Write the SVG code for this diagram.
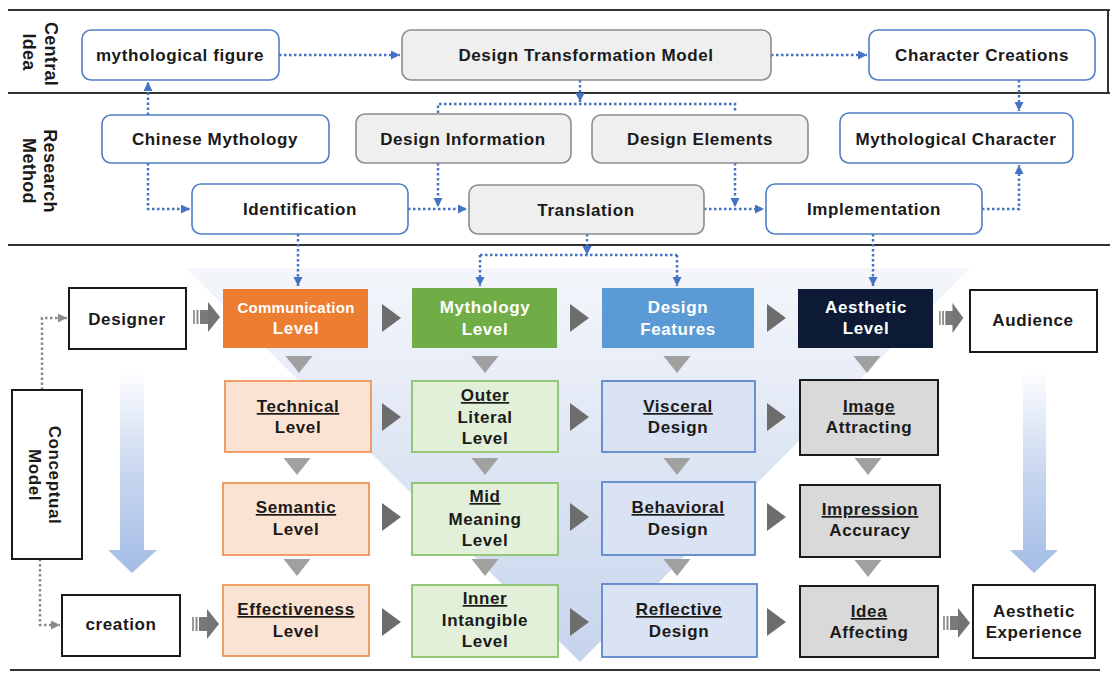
<svg xmlns="http://www.w3.org/2000/svg" width="1110" height="673" viewBox="0 0 1110 673">
<defs>
<style>
.t{font-family:"Liberation Sans",Arial,Helvetica,sans-serif;font-weight:bold;font-size:17px;letter-spacing:0.6px;fill:#1a1a1a;text-anchor:middle}
.sm{font-size:15px;letter-spacing:0.3px}
.lab{font-size:18px;letter-spacing:0.3px}
.w{fill:#ffffff}
.u{text-decoration:underline}
.rb{fill:#ffffff;stroke:#4f7fc6;stroke-width:1.6}
.gb{fill:#efefef;stroke:#8c8c8c;stroke-width:1.6}
.bb{fill:#ffffff;stroke:#1a1a1a;stroke-width:2}
.ob{fill:#fbe3d3;stroke:#f0955a;stroke-width:1.8}
.lg{fill:#e2f0d9;stroke:#8cc26c;stroke-width:1.8}
.lb{fill:#dae3f3;stroke:#5b87c9;stroke-width:1.8}
.gy{fill:#d9d9d9;stroke:#1a1a1a;stroke-width:2}
.dot{fill:none;stroke:#4472c4;stroke-width:2.5;stroke-dasharray:2.5 2.5}
.gdot{fill:none;stroke:#8a8a8a;stroke-width:2.5;stroke-dasharray:2.5 2.5}
.rt{fill:#6d6d6d}
.dt{fill:#a0a0a0}
.sep{stroke:#333333;stroke-width:2}
</style>
<marker id="ab" markerUnits="userSpaceOnUse" markerWidth="10" markerHeight="10" refX="9" refY="4.5" orient="auto">
<path d="M0,0 L9,4.5 L0,9 z" fill="#4472c4"/>
</marker>
<marker id="ag" markerUnits="userSpaceOnUse" markerWidth="10" markerHeight="10" refX="9" refY="4.5" orient="auto">
<path d="M0,0 L9,4.5 L0,9 z" fill="#8a8a8a"/>
</marker>
<linearGradient id="vg" x1="0" y1="0" x2="0" y2="1">
<stop offset="0" stop-color="#f4f6fb"/>
<stop offset="1" stop-color="#c6d4ec"/>
</linearGradient>
<linearGradient id="bg" x1="0" y1="0" x2="0" y2="1">
<stop offset="0" stop-color="#ffffff"/>
<stop offset="0.5" stop-color="#c9d7ef"/>
<stop offset="1" stop-color="#a4bde6"/>
</linearGradient>
<g id="blk">
<rect x="0" y="-7" width="2" height="14" fill="#9a9a9a"/>
<rect x="3.5" y="-7" width="2" height="14" fill="#8a8a8a"/>
<rect x="7" y="-7" width="9" height="14" fill="#7a7a7a"/>
<polygon points="15,-15 27,0 15,15" fill="#747474"/>
</g>
<polygon id="rtri" points="0,-14 19,0 0,14"/>
<polygon id="dtri" points="-13.5,0 13.5,0 0,17"/>
</defs>

<!-- section separators -->
<g id="frame">
<line class="sep" x1="8" y1="10" x2="1110" y2="10"/>
<line class="sep" x1="8" y1="93" x2="1110" y2="93"/>
<line class="sep" x1="8" y1="245" x2="1110" y2="245"/>
<line class="sep" x1="1108" y1="10" x2="1108" y2="93"/>
<line class="sep" x1="10" y1="670" x2="1100" y2="670"/>
<text class="t lab" transform="translate(45,54) rotate(90)">Central</text>
<text class="t lab" transform="translate(23,52) rotate(90)">Idea</text>
<text class="t lab" transform="translate(44,171) rotate(90)">Research</text>
<text class="t lab" transform="translate(23,171) rotate(90)">Method</text>
</g>

<!-- background V -->
<polygon id="vshape" points="186,268 970,268 580,662" fill="url(#vg)"/>

<!-- big blue arrows -->
<g id="bigarrows">
<polygon points="120,368 144,368 144,550 157,550 132,573 108,550 120,550" fill="url(#bg)"/>
<polygon points="1023,368 1046,368 1046,550 1058,550 1034,573 1010,550 1023,550" fill="url(#bg)"/>
</g>

<!-- connectors -->
<g id="connectors">
<path class="dot" d="M279,55 H400" marker-end="url(#ab)"/>
<path class="dot" d="M771,55 H867" marker-end="url(#ab)"/>
<path class="dot" d="M148,115 V82" marker-end="url(#ab)"/>
<path class="dot" d="M148,163 V209 H190" marker-end="url(#ab)"/>
<path class="dot" d="M580,80 V102" marker-end="url(#ab)"/>
<path class="dot" d="M438,113 V104 H735 V113"/>
<path class="dot" d="M408,209 H467" marker-end="url(#ab)"/>
<path class="dot" d="M438,163 V207" marker-end="url(#ab)"/>
<path class="dot" d="M704,209 H764" marker-end="url(#ab)"/>
<path class="dot" d="M735,163 V207" marker-end="url(#ab)"/>
<path class="dot" d="M1019,80 V111" marker-end="url(#ab)"/>
<path class="dot" d="M982,209 H1019 V165" marker-end="url(#ab)"/>
<path class="dot" d="M298,234 V286" marker-end="url(#ab)"/>
<path class="dot" d="M587,234 V255" marker-end="url(#ab)"/>
<path class="dot" d="M480,255 H677"/>
<path class="dot" d="M480,255 V286" marker-end="url(#ab)"/>
<path class="dot" d="M677,255 V286" marker-end="url(#ab)"/>
<path class="dot" d="M873,234 V286" marker-end="url(#ab)"/>
<path class="gdot" d="M42,390 V318 H67" marker-end="url(#ag)"/>
<path class="gdot" d="M40,559 V625 H60" marker-end="url(#ag)"/>
<!-- block arrows -->
<use href="#blk" transform="translate(193,317)"/>
<use href="#blk" transform="translate(939,318) scale(0.9,1)"/>
<use href="#blk" transform="translate(192,624)"/>
<use href="#blk" transform="translate(943,623)"/>
<!-- right triangles -->
<use href="#rtri" class="rt" x="382" y="318"/>
<use href="#rtri" class="rt" x="570" y="318"/>
<use href="#rtri" class="rt" x="767" y="318"/>
<use href="#rtri" class="rt" x="382" y="417"/>
<use href="#rtri" class="rt" x="570" y="417"/>
<use href="#rtri" class="rt" x="767" y="417"/>
<use href="#rtri" class="rt" x="382" y="517"/>
<use href="#rtri" class="rt" x="570" y="517"/>
<use href="#rtri" class="rt" x="767" y="517"/>
<use href="#rtri" class="rt" x="382" y="622"/>
<use href="#rtri" class="rt" x="570" y="622"/>
<use href="#rtri" class="rt" x="767" y="622"/>
<!-- down triangles -->
<use href="#dtri" class="dt" x="299" y="356"/>
<use href="#dtri" class="dt" x="485" y="356"/>
<use href="#dtri" class="dt" x="677" y="356"/>
<use href="#dtri" class="dt" x="867" y="356"/>
<use href="#dtri" class="dt" x="297" y="458"/>
<use href="#dtri" class="dt" x="485" y="458"/>
<use href="#dtri" class="dt" x="677" y="458"/>
<use href="#dtri" class="dt" x="868" y="458"/>
<use href="#dtri" class="dt" x="297" y="559"/>
<use href="#dtri" class="dt" x="485" y="559"/>
<use href="#dtri" class="dt" x="677" y="559"/>
<use href="#dtri" class="dt" x="868" y="560"/>
</g>

<!-- central idea row -->
<g id="n-myth-figure"><rect class="rb" x="82" y="30" width="197" height="50" rx="9"/><text class="t" x="180" y="61">mythological figure</text></g>
<g id="n-dtm"><rect class="gb" x="402" y="30" width="369" height="50" rx="9"/><text class="t" x="586" y="61">Design Transformation Model</text></g>
<g id="n-char-creations"><rect class="rb" x="869" y="30" width="226" height="50" rx="9"/><text class="t" x="982" y="61">Character Creations</text></g>

<!-- research method -->
<g id="n-chinese-myth"><rect class="rb" x="102" y="115" width="227" height="48" rx="9"/><text class="t" x="215" y="145">Chinese Mythology</text></g>
<g id="n-design-info"><rect class="gb" x="356" y="114" width="215" height="49" rx="9"/><text class="t" x="463" y="145">Design Information</text></g>
<g id="n-design-elem"><rect class="gb" x="592" y="115" width="216" height="48" rx="9"/><text class="t" x="700" y="145">Design Elements</text></g>
<g id="n-myth-char"><rect class="rb" x="840" y="113" width="233" height="50" rx="9"/><text class="t" x="956" y="145">Mythological Character</text></g>
<g id="n-identification"><rect class="rb" x="192" y="184" width="216" height="50" rx="9"/><text class="t" x="300" y="215">Identification</text></g>
<g id="n-translation"><rect class="gb" x="469" y="185" width="235" height="49" rx="9"/><text class="t" x="586" y="216">Translation</text></g>
<g id="n-implementation"><rect class="rb" x="766" y="184" width="216" height="50" rx="9"/><text class="t" x="874" y="215">Implementation</text></g>

<!-- conceptual model -->
<g id="n-conceptual"><rect class="bb" x="12" y="390" width="70" height="169"/>
<text class="t" transform="translate(49,475) rotate(90)">Conceptual</text>
<text class="t" transform="translate(29,475) rotate(90)">Model</text></g>
<g id="n-designer"><rect class="bb" x="69" y="288" width="117" height="61"/><text class="t" x="127" y="325">Designer</text></g>
<g id="n-creation"><rect class="bb" x="62" y="595" width="118" height="61"/><text class="t" x="121" y="630">creation</text></g>
<g id="n-audience"><rect class="bb" x="970" y="290" width="127" height="62"/><text class="t" x="1033" y="326">Audience</text></g>
<g id="n-aes-exp"><rect class="bb" x="973" y="585" width="122" height="73"/><text class="t" x="1034" y="617">Aesthetic</text><text class="t" x="1034" y="638">Experience</text></g>

<!-- header row -->
<g id="n-comm"><rect x="223" y="289" width="145" height="59" fill="#ed7d31"/><text class="t sm w" x="296" y="313">Communication</text><text class="t w" x="296" y="334">Level</text></g>
<g id="n-mythlevel"><rect x="412" y="288" width="145" height="60" fill="#70ad47"/><text class="t w" x="485" y="313">Mythology</text><text class="t w" x="485" y="335">Level</text></g>
<g id="n-features"><rect x="602" y="288" width="152" height="60" fill="#5b9bd5"/><text class="t w" x="678" y="313">Design</text><text class="t w" x="678" y="335">Features</text></g>
<g id="n-aesthetic"><rect x="798" y="289" width="135" height="59" fill="#0c1a35"/><text class="t w" x="866" y="313">Aesthetic</text><text class="t w" x="866" y="334">Level</text></g>

<!-- row 2 -->
<g id="n-technical"><rect class="ob" x="225" y="381" width="146" height="71"/><text class="t" x="298" y="412"><tspan class="u">Technical</tspan></text><text class="t" x="298" y="433">Level</text></g>
<g id="n-outer"><rect class="lg" x="412" y="381" width="146" height="71"/><text class="t" x="485" y="401"><tspan class="u">Outer</tspan></text><text class="t" x="485" y="423">Literal</text><text class="t" x="485" y="444">Level</text></g>
<g id="n-visceral"><rect class="lb" x="602" y="381" width="153" height="71"/><text class="t" x="678" y="412"><tspan class="u">Visceral</tspan></text><text class="t" x="678" y="433">Design</text></g>
<g id="n-image"><rect class="gy" x="800" y="380" width="138" height="75"/><text class="t" x="869" y="412"><tspan class="u">Image</tspan></text><text class="t" x="869" y="433">Attracting</text></g>

<!-- row 3 -->
<g id="n-semantic"><rect class="ob" x="223" y="483" width="146" height="72"/><text class="t" x="296" y="513"><tspan class="u">Semantic</tspan></text><text class="t" x="296" y="535">Level</text></g>
<g id="n-mid"><rect class="lg" x="412" y="483" width="146" height="72"/><text class="t" x="485" y="502"><tspan class="u">Mid</tspan></text><text class="t" x="485" y="525">Meaning</text><text class="t" x="485" y="546">Level</text></g>
<g id="n-behavioral"><rect class="lb" x="602" y="482" width="153" height="73"/><text class="t" x="678" y="513"><tspan class="u">Behavioral</tspan></text><text class="t" x="678" y="535">Design</text></g>
<g id="n-impression"><rect class="gy" x="800" y="485" width="140" height="72"/><text class="t" x="870" y="515"><tspan class="u">Impression</tspan></text><text class="t" x="870" y="536">Accuracy</text></g>

<!-- row 4 -->
<g id="n-effective"><rect class="ob" x="223" y="585" width="146" height="71"/><text class="t" x="296" y="615"><tspan class="u">Effectiveness</tspan></text><text class="t" x="296" y="637">Level</text></g>
<g id="n-inner"><rect class="lg" x="412" y="585" width="146" height="72"/><text class="t" x="485" y="604"><tspan class="u">Inner</tspan></text><text class="t" x="485" y="626">Intangible</text><text class="t" x="485" y="647">Level</text></g>
<g id="n-reflective"><rect class="lb" x="602" y="584" width="155" height="73"/><text class="t" x="679" y="615"><tspan class="u">Reflective</tspan></text><text class="t" x="679" y="637">Design</text></g>
<g id="n-idea"><rect class="gy" x="800" y="586" width="138" height="71"/><text class="t" x="869" y="617"><tspan class="u">Idea</tspan></text><text class="t" x="869" y="638">Affecting</text></g>
</svg>
